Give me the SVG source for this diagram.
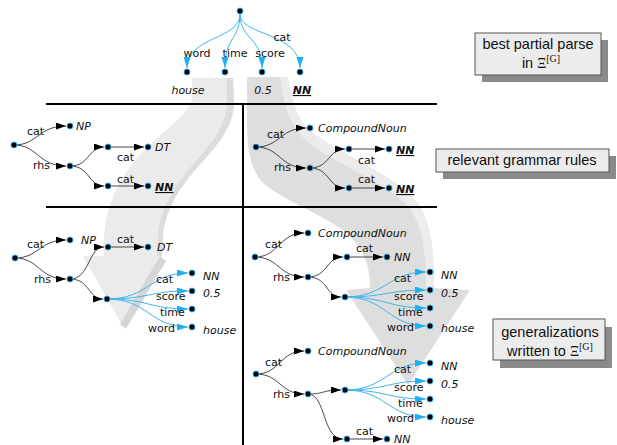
<svg xmlns="http://www.w3.org/2000/svg" width="617" height="445" viewBox="0 0 617 445">
<defs>
<style>
.n{fill:#000;stroke:#2aa9e3;stroke-width:1}
.e{fill:none;stroke:#333;stroke-width:0.9;marker-end:url(#ab)}
.c{fill:none;stroke:#3db6ec;stroke-width:1;marker-end:url(#ac)}
.t{font-family:"DejaVu Sans",Verdana,sans-serif;font-size:11px;fill:#111}
.i{font-style:italic}
.b{font-weight:bold;text-decoration:underline}
.m{text-anchor:middle}
.bx{fill:#ececec;stroke:#555;stroke-width:1}
.sh{fill:#8a8a8a}
.bt{font-family:"Liberation Sans",Arial,sans-serif;font-size:14.5px;fill:#111;text-anchor:middle}
.xi{font-family:"Liberation Serif","Times New Roman",serif}
.ln{stroke:#000;stroke-width:2;fill:none}
</style>
<marker id="ab" markerUnits="userSpaceOnUse" markerWidth="11" markerHeight="8" refX="10" refY="3.5" orient="auto"><path d="M0,0 L10,3.5 L0,7 z" fill="#000"/></marker>
<marker id="ac" markerUnits="userSpaceOnUse" markerWidth="12" markerHeight="8" refX="11" refY="3.5" orient="auto"><path d="M0,0 L11,3.5 L0,7 z" fill="#1fb0f0"/></marker>
</defs>
<rect width="617" height="445" fill="#fff"/>
<g id="bigArrows">
<path d="M192,78 L233,78 L234,100 C235,130 212,150 195,170 C180,188 166,208 163,235 L162,256 L122,325 L83,256 L104,256 L104,238 C106,200 125,168 150,145 C172,124 192,112 192,95 Z" fill="#ebebeb"/>
<path d="M227,78 L233,78 L234,100 C235,130 212,150 195,170 C180,188 166,208 163,235 L162,256 L157,256 L158,235 C161,206 175,186 190,168 C207,148 228,128 227,100 Z" fill="#dcdcdc"/>
<path d="M160,256 L166,261 L126,329 L120,324 Z" fill="#d6d6d6"/>
<path d="M247,77 L288,77 C293,110 300,125 320,138 C345,155 380,170 405,190 C428,208 434,235 434,288 L470,290 L408,385 L346,290 L370,288 C370,262 362,245 340,228 C312,210 285,200 265,185 C250,170 247,150 247,120 Z" fill="#dedede"/>
<path d="M280,77 L288,77 C293,110 300,125 320,138 C345,155 380,170 405,190 C428,208 434,235 434,288 L426,288 C426,240 420,214 398,197 C374,178 338,164 313,146 C292,131 284,110 280,77 Z" fill="#ececec"/>
</g>
<g id="frame">
<path class="ln" d="M46,104 H437 M46,207 H437 M243,104 V445"/>
</g>
<g id="box1">
<rect class="sh" x="482" y="40" width="126" height="42"/>
<rect class="bx" x="475" y="33" width="126" height="42"/>
<text class="bt" x="538" y="49">best partial parse</text>
<text class="bt" x="541" y="68">in <tspan class="xi" font-size="14">Ξ</tspan><tspan class="xi" font-size="10" dy="-6">[G]</tspan></text>
</g>
<g id="box2">
<rect class="sh" x="443" y="156" width="173" height="23"/>
<rect class="bx" x="436" y="149" width="173" height="23"/>
<text class="bt" x="522" y="165">relevant grammar rules</text>
</g>
<g id="box3">
<rect class="sh" x="500" y="327" width="112" height="41"/>
<rect class="bx" x="493" y="319" width="112" height="41"/>
<text class="bt" x="550" y="337">generalizations</text>
<text class="bt" x="550" y="356">written to <tspan class="xi" font-size="14">Ξ</tspan><tspan class="xi" font-size="10" dy="-6">[G]</tspan></text>
</g>
<g id="connectors">
<path class="c" d="M240,14 C240,40 187,36 187,68"/>
<path class="c" d="M240,14 C240,40 225,36 225,68"/>
<path class="c" d="M240,14 C240,40 262,36 262,68"/>
<path class="c" d="M240,14 C240,36 300,32 300,68"/>
<path class="e" d="M14,145 C38,145 38,126 66,126"/>
<path class="e" d="M14,145 C38,145 38,166 66,166"/>
<path class="e" d="M70,166 C90,166 88,147 104,147"/>
<path class="e" d="M70,166 C90,166 88,186 104,186"/>
<path class="e" d="M108,147 L144,147"/>
<path class="e" d="M108,186 L144,186"/>
<path class="e" d="M256,147 C280,147 280,128 306,128"/>
<path class="e" d="M256,147 C280,147 280,168 306,168"/>
<path class="e" d="M310,168 C330,168 328,149 345,149"/>
<path class="e" d="M310,168 C330,168 328,188 345,188"/>
<path class="e" d="M349,149 L385,149"/>
<path class="e" d="M349,188 L385,188"/>
<path class="e" d="M15,258 C39,258 39,240 66,240"/>
<path class="e" d="M15,258 C39,258 39,279 66,279"/>
<path class="e" d="M70,279 C90,279 88,247 104,247"/>
<path class="e" d="M70,279 C90,279 88,299 103,299"/>
<path class="e" d="M108,247 L144,247"/>
<path class="c" d="M107,299 C148,299 150,273 188,273"/>
<path class="c" d="M107,299 C148,299 150,291 188,291"/>
<path class="c" d="M107,299 C148,299 150,309 188,309"/>
<path class="c" d="M107,299 C148,299 150,327 188,327"/>
<path class="e" d="M255,257 C279,257 279,233 304,233"/>
<path class="e" d="M255,257 C279,257 279,277 304,277"/>
<path class="e" d="M308,277 C328,277 326,257 343,257"/>
<path class="e" d="M308,277 C328,277 326,297 341,297"/>
<path class="e" d="M347,257 L383,257"/>
<path class="c" d="M345,297 C386,297 388,272 426,272"/>
<path class="c" d="M345,297 C386,297 388,290 426,290"/>
<path class="c" d="M345,297 C386,297 388,308 426,308"/>
<path class="c" d="M345,297 C386,297 388,326 426,326"/>
<path class="e" d="M256,374 C280,374 280,351 304,351"/>
<path class="e" d="M256,374 C280,374 280,394 304,394"/>
<path class="e" d="M308,394 C325,394 322,390 341,390"/>
<path class="e" d="M308,394 C326,394 322,439 343,439"/>
<path class="e" d="M347,439 L383,439"/>
<path class="c" d="M345,390 C386,390 388,363 426,363"/>
<path class="c" d="M345,390 C386,390 388,381 426,381"/>
<path class="c" d="M345,390 C386,390 388,399 426,399"/>
<path class="c" d="M345,390 C386,390 388,417 426,417"/>
</g>
<g id="parse">
<circle class="n" cx="240" cy="11" r="3"/>
<circle class="n" cx="187" cy="72" r="3"/>
<circle class="n" cx="225" cy="72" r="3"/>
<circle class="n" cx="262" cy="72" r="3"/>
<circle class="n" cx="300" cy="72" r="3"/>
<text class="t m" x="197" y="57">word</text>
<text class="t m" x="235" y="57">time</text>
<text class="t m" x="270" y="57">score</text>
<text class="t m" x="282" y="41">cat</text>
<text class="t i m" x="188" y="94">house</text>
<text class="t i m" x="263" y="94">0.5</text>
<text class="t i b m" x="302" y="94">NN</text>
</g>
<g id="ruleNP">
<circle class="n" cx="14" cy="145" r="3"/>
<circle class="n" cx="70" cy="126" r="3"/>
<circle class="n" cx="70" cy="166" r="3"/>
<circle class="n" cx="108" cy="147" r="3"/>
<circle class="n" cx="108" cy="186" r="3"/>
<circle class="n" cx="148" cy="147" r="3"/>
<circle class="n" cx="148" cy="186" r="3"/>
<text class="t" x="27" y="135">cat</text>
<text class="t i" x="76" y="130">NP</text>
<text class="t" x="33" y="169">rhs</text>
<text class="t i" x="155" y="151">DT</text>
<text class="t" x="117" y="161">cat</text>
<text class="t" x="117" y="183">cat</text>
<text class="t i b" x="155" y="191">NN</text>
</g>
<g id="ruleCN">
<circle class="n" cx="256" cy="147" r="3"/>
<circle class="n" cx="310" cy="128" r="3"/>
<circle class="n" cx="310" cy="168" r="3"/>
<circle class="n" cx="349" cy="149" r="3"/>
<circle class="n" cx="349" cy="188" r="3"/>
<circle class="n" cx="389" cy="149" r="3"/>
<circle class="n" cx="389" cy="188" r="3"/>
<text class="t" x="267" y="138">cat</text>
<text class="t i" x="318" y="132">CompoundNoun</text>
<text class="t" x="274" y="171">rhs</text>
<text class="t i b" x="396" y="154">NN</text>
<text class="t" x="358" y="164">cat</text>
<text class="t" x="358" y="183">cat</text>
<text class="t i b" x="396" y="193">NN</text>
</g>
<g id="genNP">
<circle class="n" cx="15" cy="258" r="3"/>
<circle class="n" cx="70" cy="240" r="3"/>
<circle class="n" cx="70" cy="279" r="3"/>
<circle class="n" cx="108" cy="247" r="3"/>
<circle class="n" cx="148" cy="247" r="3"/>
<circle class="n" cx="107" cy="299" r="3"/>
<circle class="n" cx="192" cy="273" r="3"/>
<circle class="n" cx="192" cy="291" r="3"/>
<circle class="n" cx="192" cy="309" r="3"/>
<circle class="n" cx="192" cy="327" r="3"/>
<text class="t" x="27" y="248">cat</text>
<text class="t i" x="81" y="244">NP</text>
<text class="t" x="34" y="283">rhs</text>
<text class="t" x="117" y="243">cat</text>
<text class="t i" x="157" y="251">DT</text>
<text class="t" x="156" y="283">cat</text>
<text class="t" x="156" y="300">score</text>
<text class="t" x="160" y="316">time</text>
<text class="t" x="148" y="332">word</text>
<text class="t i" x="203" y="280">NN</text>
<text class="t i" x="203" y="297">0.5</text>
<text class="t i" x="203" y="334">house</text>
</g>
<g id="genCN1">
<circle class="n" cx="255" cy="257" r="3"/>
<circle class="n" cx="308" cy="233" r="3"/>
<circle class="n" cx="308" cy="277" r="3"/>
<circle class="n" cx="347" cy="257" r="3"/>
<circle class="n" cx="387" cy="257" r="3"/>
<circle class="n" cx="345" cy="297" r="3"/>
<circle class="n" cx="430" cy="272" r="3"/>
<circle class="n" cx="430" cy="290" r="3"/>
<circle class="n" cx="430" cy="308" r="3"/>
<circle class="n" cx="430" cy="326" r="3"/>
<text class="t" x="265" y="248">cat</text>
<text class="t i" x="318" y="237">CompoundNoun</text>
<text class="t" x="273" y="281">rhs</text>
<text class="t" x="356" y="252">cat</text>
<text class="t i" x="394" y="261">NN</text>
<text class="t" x="394" y="282">cat</text>
<text class="t" x="394" y="300">score</text>
<text class="t" x="398" y="316">time</text>
<text class="t" x="387" y="331">word</text>
<text class="t i" x="441" y="279">NN</text>
<text class="t i" x="441" y="297">0.5</text>
<text class="t i" x="441" y="332">house</text>
</g>
<g id="genCN2">
<circle class="n" cx="256" cy="374" r="3"/>
<circle class="n" cx="308" cy="351" r="3"/>
<circle class="n" cx="308" cy="394" r="3"/>
<circle class="n" cx="345" cy="390" r="3"/>
<circle class="n" cx="347" cy="439" r="3"/>
<circle class="n" cx="387" cy="439" r="3"/>
<circle class="n" cx="430" cy="363" r="3"/>
<circle class="n" cx="430" cy="381" r="3"/>
<circle class="n" cx="430" cy="399" r="3"/>
<circle class="n" cx="430" cy="417" r="3"/>
<text class="t" x="265" y="366">cat</text>
<text class="t i" x="318" y="355">CompoundNoun</text>
<text class="t" x="273" y="398">rhs</text>
<text class="t" x="394" y="373">cat</text>
<text class="t" x="394" y="391">score</text>
<text class="t" x="398" y="407">time</text>
<text class="t" x="387" y="422">word</text>
<text class="t i" x="441" y="370">NN</text>
<text class="t i" x="441" y="388">0.5</text>
<text class="t i" x="441" y="424">house</text>
<text class="t" x="356" y="435">cat</text>
<text class="t i" x="394" y="443">NN</text>
</g>
</svg>
